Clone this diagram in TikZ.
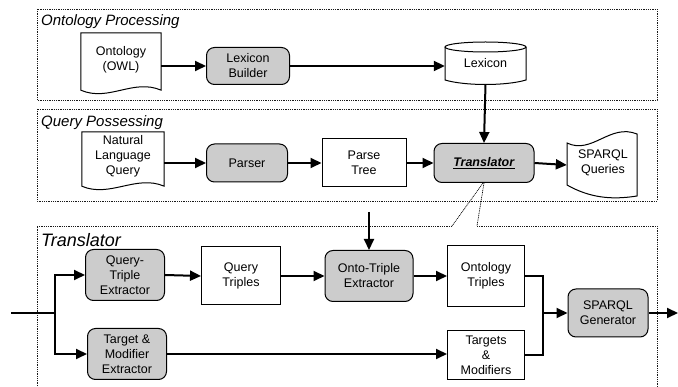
\documentclass[tikz,border=0pt]{standalone}
\usepackage{fontspec}
\setmainfont{Liberation Sans}
\usetikzlibrary{arrows.meta,calc}
\begin{document}
\begin{tikzpicture}[x=1pt,y=-1pt,
  every node/.style={font=\fontsize{12.5}{15}\selectfont, align=center, inner sep=0pt},
  frame/.style={draw=black!90, line width=0.7pt, dash pattern=on 1pt off 0.8pt},
  flabel/.style={anchor=base west, font=\fontsize{15}{17}\selectfont\itshape},
  proc/.style={draw, fill=black!20, rounded corners=8pt, line width=1pt},
  box/.style={draw, fill=white, line width=1pt},
  ghost/.style={draw=none},
  shapeline/.style={draw, fill=white, line width=1pt},
  conn/.style={line width=2pt, -{Triangle[length=11pt,width=10pt]}},
  plain/.style={line width=2pt},
  callout/.style={line width=0.7pt, dash pattern=on 1pt off 0.8pt}
]
\useasboundingbox (0,0) rectangle (678,387);

% frames
\draw[frame] (37,9) rectangle (657,100);
\draw[frame] (37,109) rectangle (657,201);
\node[flabel] (lop) at (41,26) {Ontology Processing};
\node[flabel] (lqp) at (41,127) {Query Possessing};
\node[flabel, font=\fontsize{18}{20}\selectfont\itshape] (ltr) at (41,247) {Translator};

% ---- ontology processing
\node[ghost, minimum width=80pt, minimum height=57pt] (ontdoc) at (121,61.5) {};
\draw[shapeline] (ontdoc.north west) -- (ontdoc.north east) -- (ontdoc.south east)
  .. controls +(-28,-12) and +(28,12) .. (ontdoc.south west) -- cycle;
\node (ontdoct) at (121,60) {Ontology\\(OWL)};

\node[proc, minimum width=83pt, minimum height=37pt] (lexb) at (248,66) {Lexicon\\Builder};

\node[ghost, minimum width=81pt, minimum height=37pt] (lex) at (485.5,65.5) {};
\draw[shapeline] (445,47) -- (445,80) .. controls (465,86) and (506,86) .. (526,80) -- (526,47);
\draw[shapeline] (485.5,47) ellipse [x radius=40.5pt, y radius=5pt];
\node (lext) at (485.5,63) {Lexicon};

% ---- query processing
\node[ghost, minimum width=82pt, minimum height=54pt] (nlq) at (123,159) {};
\draw[shapeline] (nlq.north west) -- (nlq.north east) -- (nlq.south east)
  .. controls +(-28,-12) and +(28,12) .. (nlq.south west) -- cycle;
\node (nlqt) at (123,156) {Natural\\Language\\Query};

\node[proc, minimum width=81pt, minimum height=38pt] (parser) at (247,163) {Parser};
\node[box, minimum width=84pt, minimum height=48pt] (ptree) at (364,163) {Parse\\Tree};
\node[proc, minimum width=100pt, minimum height=39pt] (trans) at (484,163)
  {\underline{\textbf{\textit{Translator}}}};

\node[ghost, minimum width=70pt, minimum height=50pt] (sq) at (602,165) {};
\draw[shapeline] (567,143) .. controls (592,155) and (610,123) .. (637,134)
  -- (637,196) .. controls (612,200) and (590,198) .. (567,185) -- cycle;
\node (sqt) at (603,163) {SPARQL\\Queries};

% ---- translator
\node[proc, minimum width=79pt, minimum height=51pt] (qte) at (125,275) {Query-\\Triple\\Extractor};
\node[proc, minimum width=79pt, minimum height=51pt] (tme) at (127,354) {Target \&\\Modifier\\Extractor};
\node[box, minimum width=79pt, minimum height=58pt] (qt) at (241,276) {Query\\Triples};
\node[proc, minimum width=88pt, minimum height=51pt] (ote) at (369,276) {Onto-Triple\\Extractor};
\node[box, minimum width=77pt, minimum height=61pt] (ot) at (486,276) {Ontology\\Triples};
\node[box, minimum width=77pt, minimum height=49pt] (tm) at (486,355) {Targets\\\&\\Modifiers};
\node[proc, minimum width=80pt, minimum height=48pt] (sg) at (608,313) {SPARQL\\Generator};

% translator frame with callout
\coordinate (cl) at (452,226);
\coordinate (cr) at (477,226);
\draw[frame] (cl) -- (37,226) -- (37,392);
\draw[frame] (cr) -- (657,226) -- (657,392);
\draw[callout] ($(trans.south)+(-1,0)$) -- (cl);
\draw[callout] ($(trans.south)+(0,0)$) -- (cr);

% connectors
\draw[conn] (lexb.west -| ontdoc.east) -- (lexb.west);
\draw[conn] (lexb.east) -- (lexb.east -| lex.west);
\draw[conn] (lex.south) -- (trans.north);
\draw[conn] (parser.west -| nlq.east) -- (parser.west);
\draw[conn] (parser.east) -- (ptree.west);
\draw[conn] (ptree.west -| ptree.east) -- (trans.west);
\draw[conn] (trans.east) -- (sq.west);

\coordinate (in) at (11,313);
\coordinate (br) at (55,313);
\draw[plain] (in) -- (br);
\draw[conn] (br) |- (qte.west);
\draw[conn] (br) |- (tme.west);
\draw[conn] (qte.east) -- (qt.west);
\draw[conn] (qt.east) -- (ote.west);
\coordinate (otin) at (369,212);
\draw[conn] (otin) -- (ote.north);
\draw[conn] (ote.east) -- (ot.west);
\draw[conn] (tme.east) -- (tme.east -| tm.west);
\coordinate (mg) at (543,313);
\draw[plain] (ot.east) -| (mg);
\draw[plain] (tm.east) -| (mg);
\draw[conn] (mg) -- (sg.west);
\coordinate (out) at (678,313);
\draw[conn] (sg.east) -- (out);
\end{tikzpicture}
\end{document}
